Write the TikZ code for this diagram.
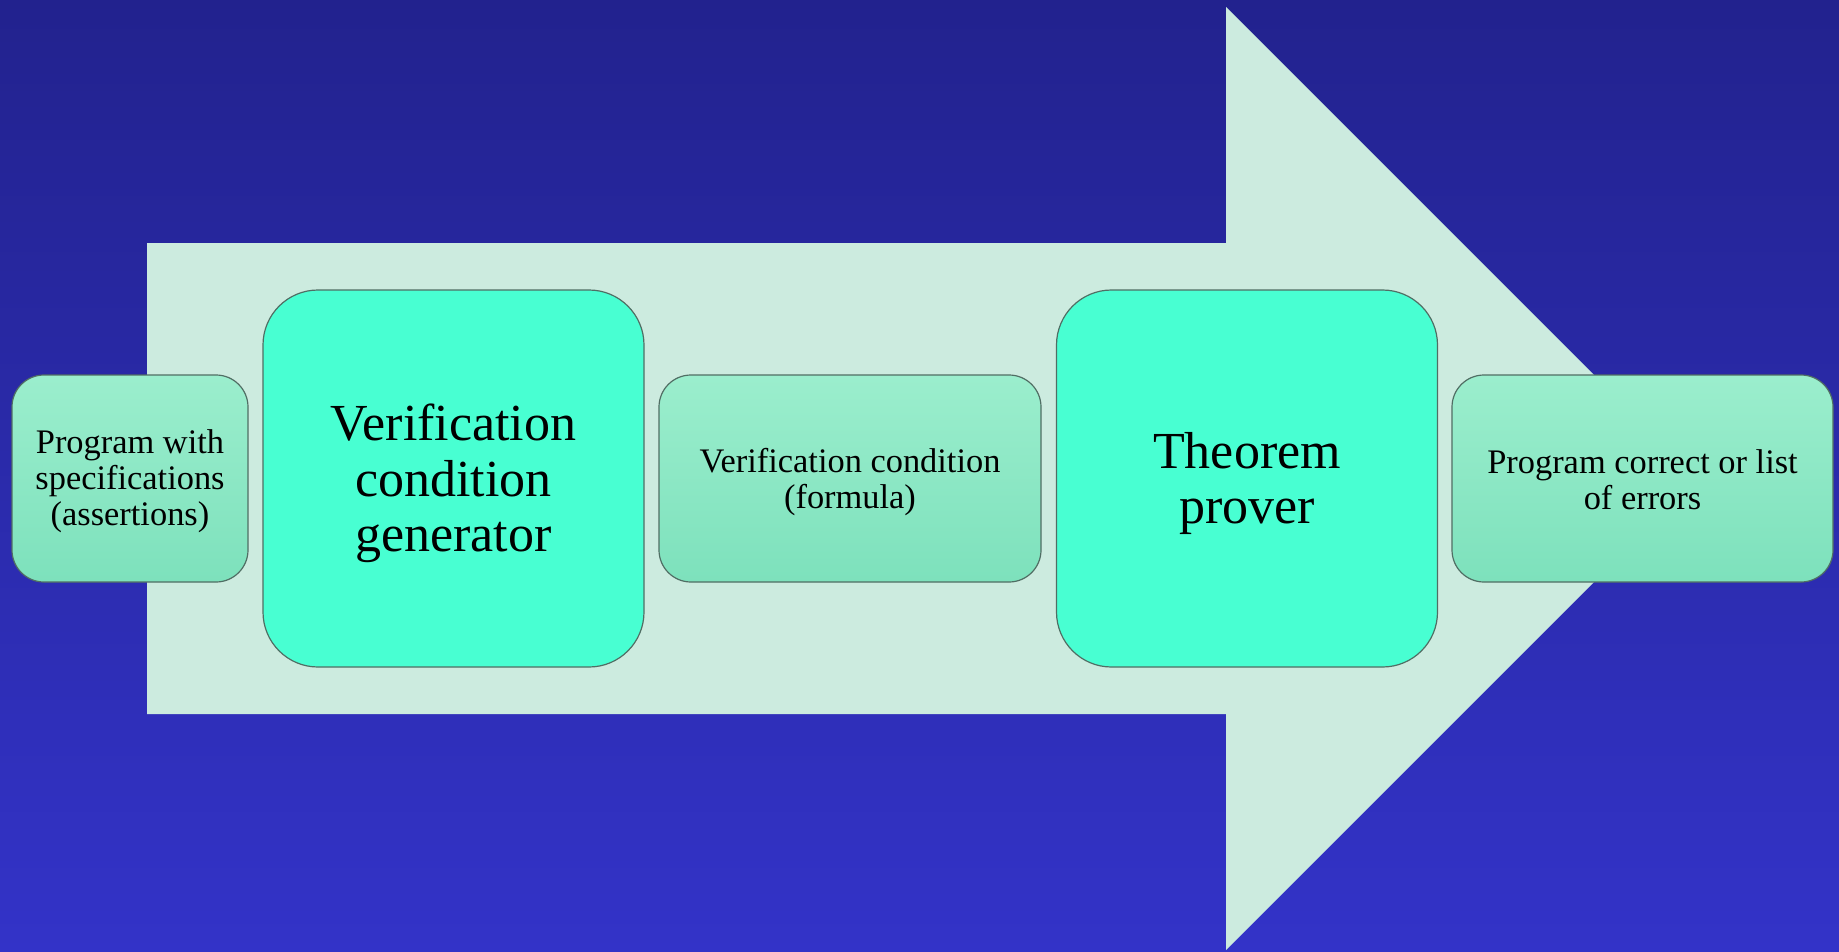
\documentclass[tikz,border=0pt]{standalone}
\usepackage{fontspec}
\setmainfont{Liberation Serif}
\definecolor{bgtop}{RGB}{34,34,142}
\definecolor{bgbot}{RGB}{51,51,200}
\definecolor{arrowfill}{RGB}{204,235,223}
\definecolor{bigfill}{RGB}{72,255,210}
\definecolor{smalltop}{RGB}{155,238,205}
\definecolor{smallbot}{RGB}{125,225,188}
\definecolor{edgecol}{RGB}{80,110,100}
\tikzset{
  smallbox/.style={draw=edgecol, line width=1.2pt, rounded corners=32pt,
    top color=smalltop, bottom color=smallbot, minimum height=207pt,
    inner sep=0pt, outer sep=0pt},
  bigbox/.style={draw=edgecol, line width=1.2pt, rounded corners=55pt,
    fill=bigfill, minimum width=381pt, minimum height=377pt,
    inner sep=0pt, outer sep=0pt},
  smalltext/.style={inner sep=0pt, align=center,
    font=\fontsize{34.4}{36}\selectfont},
  bigtext/.style={inner sep=0pt, align=center,
    font=\fontsize{52}{55.5}\selectfont},
}
\begin{document}
\begin{tikzpicture}[x=1pt,y=-1pt]
\useasboundingbox (0,0) rectangle (1839,951);
\shade[top color=bgtop, bottom color=bgbot] (0,0) rectangle (1839,951);
% big arrow
\fill[arrowfill] (147,243) -- (1226,243) -- (1226,7) -- (1697.5,478.5)
  -- (1226,950) -- (1226,714) -- (147,714) -- cycle;
% boxes
\node[smallbox, minimum width=236pt] (input) at (130,478.5) {};
\node[bigbox] (vcg) at (453.5,478.5) {};
\node[smallbox, minimum width=382pt] (vc) at (850,478.5) {};
\node[bigbox] (prover) at (1247,478.5) {};
\node[smallbox, minimum width=381pt] (result) at (1642.5,478.5) {};
% texts
\node[smalltext, yshift=-3pt] (inputtext) at (input.center)
  {Program with\\specifications\\(assertions)};
\node[bigtext, yshift=-5pt] (vcgtext) at (vcg.center)
  {Verification\\condition\\generator};
\node[smalltext, yshift=-4pt] (vctext) at (vc.center)
  {Verification condition\\(formula)};
\node[bigtext, yshift=-5pt] (provertext) at (prover.center)
  {Theorem\\prover};
\node[smalltext, yshift=-1.5pt] (resulttext) at (result.center)
  {Program correct or list\\of errors};
\end{tikzpicture}
\end{document}
